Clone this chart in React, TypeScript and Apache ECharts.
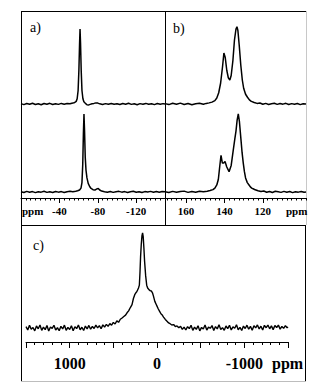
import React, { useEffect, useRef } from 'react';
import * as echarts from 'echarts';

// ---------- data: [ppm, intensity] ----------
const A_TOP: [number, number][] = [
  [0, 0.5], [-3, -0.8], [-6, 0.6], [-9, -0.4], [-12, 1.0], [-15, -0.6], [-18, 0.3], [-21, -1.0],
  [-24, 0.7], [-27, -0.3], [-30, 0.9], [-33, -0.7], [-36, 0.4], [-39, -0.5], [-42, 0.8], [-45, -0.2],
  [-48, 0.6], [-51, 0.2], [-54, 1.2], [-56, 2.0], [-57.5, 3.5], [-58.5, 7], [-59.5, 18], [-60.3, 45],
  [-61, 80], [-61.5, 100], [-62, 82], [-62.7, 45], [-63.5, 18], [-64.5, 7], [-65.5, 3], [-67, 1],
  [-68.5, -0.8], [-70, -1.5], [-72, -0.5], [-74, 0.3], [-76, 0.8], [-78, 1.5], [-80, 1.2], [-82, 0.2],
  [-85, -0.6], [-88, 0.5], [-91, -0.4], [-94, 0.7], [-97, -0.2], [-100, 0.4], [-103, -0.7], [-106, 0.6],
  [-109, -0.3], [-112, 0.9], [-115, -0.5], [-118, 0.3], [-121, -0.9], [-124, 0.5], [-127, -0.2], [-130, 0.8],
  [-133, -0.4], [-136, 0.3], [-139, -0.8], [-142, 0.6], [-145, -0.3], [-148, 0.5], [-150, 0.1],
];

const A_BOTTOM: [number, number][] = [
  [0, 0.3], [-3, -0.6], [-6, 0.8], [-9, -0.3], [-12, 0.5], [-15, -0.8], [-18, 0.4], [-21, -0.2],
  [-24, 0.9], [-27, -0.5], [-30, 0.3], [-33, -0.6], [-36, 0.7], [-39, -0.2], [-42, 0.5], [-45, -0.7],
  [-48, 0.4], [-51, 0.8], [-54, 0.2], [-57, 0.9], [-59, 1.5], [-61, 2.5], [-62.5, 5], [-63.5, 12],
  [-64.3, 35], [-65, 75], [-65.6, 100], [-66.2, 78], [-66.9, 45], [-67.7, 28], [-68.7, 18], [-70, 11],
  [-71.5, 7], [-73, 4.5], [-75, 3], [-77, 2.5], [-79, 4], [-80.5, 4.5], [-82, 2.5], [-84, 1.2],
  [-87, 0.4], [-90, -0.3], [-93, 0.6], [-96, -0.5], [-99, 0.4], [-102, 0.8], [-105, -0.2], [-108, 0.5],
  [-111, -0.6], [-114, 0.3], [-117, 0.9], [-120, -0.3], [-123, 0.4], [-126, -0.7], [-129, 0.5], [-132, 0.1],
  [-135, 0.8], [-138, -0.4], [-141, 0.5], [-144, -0.3], [-147, 0.6], [-150, 0.2],
];

const B_TOP: [number, number][] = [
  [171, 0.5], [169, -0.8], [167, 0.9], [165, -0.4], [163, 1.2], [161, -0.6], [159, 0.7], [157, -1.0],
  [155, 0.4], [153, 1.1], [151, -0.3], [149.5, 0.8], [148, 1.5], [146.5, 2.5], [145, 4.5], [144, 8],
  [143, 15], [142, 28], [141, 50], [140.3, 68], [139.6, 62], [138.8, 45], [138, 35], [137.2, 32],
  [136.5, 38], [135.6, 58], [134.8, 85], [134, 100], [133.5, 103], [133, 98], [132.3, 78], [131.5, 52],
  [130.7, 32], [130, 21], [129, 13], [128, 9], [127, 5.5], [126, 3.5], [124.5, 2], [123, 0.8],
  [121.5, 1.3], [120, -0.4], [118.5, 0.8], [117, -0.6], [115.5, 0.4], [114, 1.0], [112.5, -0.5], [111, 0.7],
  [109.5, -0.2], [108, 0.9], [106.5, -0.7], [105, 0.5], [103.5, -0.3], [102, 0.6], [100.5, -0.8], [99, 0.3],
  [97.5, 0],
];

const B_BOTTOM: [number, number][] = [
  [171, 0.4], [169, -0.7], [167, 0.8], [165, -0.3], [163, 0.6], [161, 1.1], [159, -0.5], [157, 0.7],
  [155, -0.2], [153, 0.9], [151, 0.2], [149, 1.0], [147.5, 1.8], [146, 3], [145, 5], [144, 9],
  [143.2, 16], [142.5, 32], [141.8, 47], [141.1, 37], [140.4, 37], [139.7, 39], [138.8, 32], [137.6, 26],
  [136.5, 34], [135.4, 54], [134.6, 68], [134, 78], [133.4, 92], [132.8, 100], [132.2, 90], [131.4, 67],
  [130.8, 50], [130.2, 37], [129.6, 26], [129, 18], [128.1, 12], [127.2, 9], [126.5, 6.5], [125.8, 5],
  [124.8, 3.8], [124, 2.8], [122.5, 1.5], [121, 0.6], [119.5, 1.2], [118, -0.3], [116.5, 0.7], [115, -0.6],
  [113.5, 0.9], [112, 0.2], [110.5, -0.5], [109, 0.8], [107.5, -0.3], [106, 0.6], [104.5, -0.8], [103, 0.4],
  [101.5, -0.2], [100, 0.7], [98.5, -0.4], [97.5, 0],
];

const C_SPECTRUM: [number, number][] = [
  [1500, 1.5], [1480, -2.0], [1460, 2.8], [1440, -1.2], [1420, 0.5], [1400, -3.0], [1380, 2.2], [1360, -0.8],
  [1340, 3.1], [1320, -2.5], [1300, 0.9], [1280, -1.7], [1260, 2.6], [1240, -3.2], [1220, 1.1], [1200, -0.4],
  [1180, 2.9], [1160, -2.2], [1140, 0.3], [1120, -2.9], [1100, 1.8], [1080, -1.0], [1060, 3.0], [1040, -2.4],
  [1020, 0.7], [1000, -1.5], [980, 2.4], [960, -2.8], [940, 1.3], [920, -0.6], [900, 3.2], [880, -1.9],
  [860, 0.8], [840, -2.6], [820, 2.0], [800, -0.9], [780, 2.7], [760, -1.3], [740, 1.6], [720, -0.5],
  [700, 3.0], [680, 0.2], [660, 2.5], [640, -0.8], [620, 3.3], [600, 1.0], [580, 3.8], [560, 1.8],
  [540, 4.6], [520, 2.9], [500, 5.8], [480, 4.2], [460, 7.5], [440, 6.0], [420, 9.2], [400, 10.5],
  [380, 12.0], [360, 13.5], [343, 16], [325, 18], [305, 21.5], [286, 24.5], [270, 31], [255, 35],
  [242, 37], [232, 38], [222, 40], [212, 42], [202, 45], [195, 58], [188, 75], [180, 88],
  [172, 97], [165, 100], [158, 96], [150, 84], [142, 70], [130, 55], [118, 45], [107, 42],
  [90, 40], [75, 39], [65, 39], [52, 37], [42, 34], [25, 28], [10, 25], [0, 23],
  [-15, 20], [-30, 17.5], [-45, 15], [-57, 14], [-75, 11.5], [-95, 9], [-115, 7], [-133, 5.3],
  [-150, 4.5], [-170, 3.2], [-190, 3.6], [-210, 1.5], [-229, 2.2], [-250, 0.2], [-270, 1.8], [-290, -1.5],
  [-310, 1.0], [-330, -2.1], [-350, 1.4], [-370, -0.6], [-390, 2.8], [-410, -2.5], [-430, 0.9], [-450, -1.4],
  [-470, 2.3], [-490, -3.0], [-510, 0.6], [-530, -1.1], [-550, 3.1], [-570, -2.2], [-590, 1.0], [-610, -0.3],
  [-630, 2.6], [-650, -2.7], [-670, 1.5], [-690, -0.9], [-710, 3.3], [-730, -1.6], [-750, 0.4], [-770, -2.4],
  [-790, 2.1], [-810, -0.7], [-830, 2.9], [-850, -2.0], [-870, 1.2], [-890, -0.2], [-910, 3.4], [-930, -1.8],
  [-950, 0.7], [-970, -2.6], [-990, 2.0], [-1010, -0.5], [-1030, 3.0], [-1050, -1.3], [-1070, 1.7], [-1090, -2.3],
  [-1110, 2.5], [-1130, 0.1], [-1150, 3.2], [-1170, -1.0], [-1190, 1.9], [-1210, -2.1], [-1230, 2.8], [-1250, 0.3],
  [-1270, 3.1], [-1290, -0.8], [-1310, 2.2], [-1330, -1.7], [-1350, 2.7], [-1370, 0.5], [-1390, 3.0], [-1410, -1.2],
  [-1430, 1.6], [-1450, -0.4], [-1470, 2.4], [-1490, 0.2], [-1500, 1.0],
];

// ---------- ticks / labels ----------
const A_MAJOR_TICKS = [-40, -80, -120];
const B_MAJOR_TICKS = [160, 140, 120];
const C_MAJOR_TICKS = [1500, 1000, 500, 0, -500, -1000, -1500];
const C_LABELS = [1000, 0, -1000];
const PANEL_LABELS = ['a)', 'b)', 'c)'];
const UNIT = 'ppm';

const SERIF = 'Liberation Serif';

const hiddenX = (gridIndex: number, min: number, max: number) => ({
  type: 'value', gridIndex, min, max, inverse: true, show: false,
});

const minorX = (gridIndex: number, min: number, max: number, interval: number, len: number) => ({
  type: 'value', gridIndex, min, max, inverse: true, interval, position: 'bottom',
  axisLine: { show: true, onZero: false, lineStyle: { color: '#000', width: 1 } },
  axisTick: { show: true, length: len, lineStyle: { color: '#000', width: 1 } },
  axisLabel: { show: false },
  splitLine: { show: false },
});

const majorX = (
  gridIndex: number, min: number, max: number, ticks: number[], labels: number[],
  len: number, fontSize: number, margin: number,
) => ({
  type: 'value', gridIndex, min, max, inverse: true, position: 'bottom',
  axisLine: { show: false, onZero: false },
  axisTick: { show: true, length: len, customValues: ticks, lineStyle: { color: '#000', width: 1 } },
  axisLabel: {
    show: true, customValues: labels, fontSize, fontWeight: 'bold', fontFamily: SERIF,
    color: '#000', margin, formatter: (v: number) => String(v),
  },
  splitLine: { show: false },
});

const yAx = (gridIndex: number, min: number, max: number) => ({
  type: 'value', gridIndex, min, max, show: false, splitLine: { show: false },
});

const line = (data: [number, number][], xAxisIndex: number, yAxisIndex: number, width = 1.5) => ({
  type: 'line', data, xAxisIndex, yAxisIndex, showSymbol: false, symbol: 'none',
  lineStyle: { color: '#000', width }, silent: true,
});

const gLine = (x1: number, y1: number, x2: number, y2: number, stroke = '#000') => ({
  type: 'line', shape: { x1, y1, x2, y2 }, style: { stroke, lineWidth: 1 }, silent: true,
});

const gText = (text: string, x: number, y: number, fontSize: number, fontWeight = 'normal') => ({
  type: 'text', x, y, silent: true,
  style: {
    text, fontFamily: SERIF, fontSize, fontWeight, fill: '#000',
    align: 'left', verticalAlign: 'middle',
  },
});

const option = {
  animation: false,
  backgroundColor: '#fff',
  grid: [
    { left: 21, top: 11, width: 144, height: 99 },
    { left: 21, top: 110, width: 144, height: 88 },
    { left: 165, top: 11, width: 141, height: 99 },
    { left: 165, top: 110, width: 141, height: 88 },
    { left: 26, top: 229, width: 262, height: 113 },
  ],
  xAxis: [
    hiddenX(0, -150, 0),
    minorX(1, -150, 0, 5, 2.5),
    majorX(1, -150, 0, A_MAJOR_TICKS, A_MAJOR_TICKS, 5, 11, 7),
    hiddenX(2, 97.5, 171),
    minorX(3, 97.5, 171, 2.5, 2.5),
    majorX(3, 97.5, 171, B_MAJOR_TICKS, B_MAJOR_TICKS, 5, 11, 7),
    minorX(4, -1500, 1500, 100, 3),
    majorX(4, -1500, 1500, C_MAJOR_TICKS, C_LABELS, 6, 16, 13),
  ],
  yAxis: [
    yAx(0, -8, 124),
    yAx(1, -7.7, 105),
    yAx(2, -8, 124),
    yAx(3, -7.7, 105),
    yAx(4, -14.7, 104),
  ],
  series: [
    line(A_TOP, 0, 0),
    line(A_BOTTOM, 1, 1),
    line(B_TOP, 3, 2),
    line(B_BOTTOM, 4, 3),
    line(C_SPECTRUM, 6, 4, 1.4),
  ],
  graphic: [
    gLine(21, 11.5, 306, 11.5),
    gLine(21.5, 11, 21.5, 381),
    gLine(165.5, 11, 165.5, 225),
    gLine(21, 225.5, 306, 225.5),
    gLine(306.5, 11, 306.5, 225, '#c8c8c8'),
    gLine(305.5, 225, 305.5, 381),
    gLine(21, 381.5, 306, 381.5, '#bdbdbd'),
    gText(PANEL_LABELS[0], 30, 27, 14),
    gText(PANEL_LABELS[1], 173, 28, 14),
    gText(PANEL_LABELS[2], 33, 245, 14),
    gText(UNIT, 22, 211, 11, 'bold'),
    gText(UNIT, 286, 211, 11, 'bold'),
    gText(UNIT, 272, 363, 16, 'bold'),
  ],
};

export default function App() {
  const ref = useRef<HTMLDivElement>(null);
  useEffect(() => {
    if (!ref.current) return;
    const chart = echarts.init(ref.current, null, { renderer: 'svg' });
    chart.setOption(option as any);
    return () => chart.dispose();
  }, []);
  return (
    <div
      ref={ref}
      style={{ position: 'fixed', left: 0, top: 0, width: 317, height: 388, background: '#fff' }}
    />
  );
}
